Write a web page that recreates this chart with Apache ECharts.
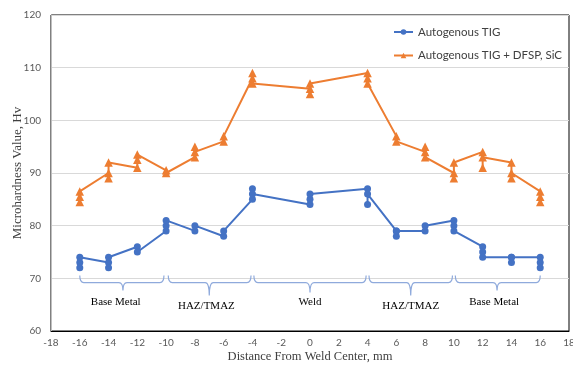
<!DOCTYPE html>
<html>
<head>
<meta charset="utf-8">
<script src="https://cdn.jsdelivr.net/npm/echarts@6/dist/echarts.min.js"></script>
<style>
html,body{margin:0;padding:0;background:#fff;}
#chart{width:573px;height:367px;}
</style>
</head>
<body>
<div id="chart"></div>
<script>
// Measurement positions (mm from weld center)
const positions = [-16, -14, -12, -10, -8, -6, -4, 0, 4, 6, 8, 10, 12, 14, 16];
// Microhardness readings at each position, in plotting order
const tigValues = [[72,73,74],[73,72,74],[76,75],[79,80,81],[79,80],[78,79],[85,87,86],[84,85,86],[87,84,86],[79,78,79],[79,80],[81,80,79],[76,75,74],[74,73,74],[74,73,72]];
const sicValues = [[84.5,85.5,86.5],[90,89,92],[91,92.5,93.5],[90.5,90],[93,95,94],[96,97],[108,109,107],[106,105,107],[109,108,107],[97,96],[94,95,93],[90,89,92],[94,91,93],[92,89,90],[86.5,85.5,84.5]];
const seriesNames = ['Autogenous TIG', 'Autogenous TIG + DFSP, SiC'];
// Zone annotations
const zoneNames = ['Base Metal', 'HAZ/TMAZ', 'Weld', 'HAZ/TMAZ', 'Base Metal'];
const zoneStart = [-16, -9.85, -3.9, 4.1, 10.1];
const zoneEnd = [-10.15, -4.1, 3.9, 9.9, 16];
const zoneMid = [-13, -7, 0, 7, 13];
const zoneLabelX = [-13.5, -7.2, 0, 7, 12.8];

// styles for brackets (pixels)
const tickLen = [8, 13, 10, 13, 8];
const labelOffset = [20, 24, 20, 24, 20];
const BRACKET_LEVEL = 69.2;

function flatten(vals) {
  const out = [];
  positions.forEach((x, i) => vals[i].forEach(v => out.push([x, v])));
  return out;
}

const chart = echarts.init(document.getElementById('chart'), null, {renderer: 'canvas'});
const axisFont = 'Lato';
const option = {
  animation: false,
  grid: {left: 51, right: 4, top: 15, bottom: 36, show: true, borderColor: '#000', borderWidth: 1,
         backgroundColor: 'transparent', containLabel: false, outerBoundsMode: 'none'},
  legend: {
    orient: 'vertical', left: 388, top: 20, itemGap: 9.5, itemWidth: 19, itemHeight: 7,
    textStyle: {fontFamily: axisFont, fontSize: 11.5, color: '#404040', lineHeight: 14},
    data: seriesNames
  },
  xAxis: {
    type: 'value', min: -18, max: 18, interval: 2,
    axisLine: {show: true, onZero: false, lineStyle: {color: '#000', width: 1}},
    axisTick: {show: false},
    splitLine: {show: false},
    axisLabel: {color: '#595959', fontFamily: axisFont, fontSize: 10, margin: 7},
    name: 'Distance From Weld Center, mm', nameLocation: 'middle', nameGap: 19, nameMoveOverlap: false,
    nameTextStyle: {fontFamily: 'Liberation Serif', fontSize: 12.5, color: '#404040'}
  },
  yAxis: {
    type: 'value', min: 60, max: 120, interval: 10,
    axisLine: {show: true, onZero: false, lineStyle: {color: '#bfbfbf', width: 1}},
    axisTick: {show: false},
    splitLine: {show: true, lineStyle: {color: '#d9d9d9', width: 1}},
    axisLabel: {color: '#595959', fontFamily: axisFont, fontSize: 10, margin: 10},
    name: 'Microhardness Value, Hv', nameLocation: 'middle', nameGap: 27, nameMoveOverlap: false,
    nameTextStyle: {fontFamily: 'Liberation Serif', fontSize: 13, color: '#404040'}
  },
  series: [
    {
      name: seriesNames[0], type: 'line', data: flatten(tigValues),
      symbol: 'circle', symbolSize: 7,
      lineStyle: {color: '#4472C4', width: 2},
      itemStyle: {color: '#4472C4'}, z: 3
    },
    {
      name: seriesNames[1], type: 'line', data: flatten(sicValues),
      symbol: 'triangle', symbolSize: 8.5,
      lineStyle: {color: '#ED7D31', width: 2},
      itemStyle: {color: '#ED7D31'}, z: 3
    },
    {
      type: 'custom', silent: true, clip: false,
      data: zoneStart.map((s, i) => [s, zoneEnd[i], zoneMid[i], zoneLabelX[i]]),
      encode: {x: [0, 1], y: []},
      renderItem: function (params, api) {
        const i = params.dataIndex;
        const a = api.coord([api.value(0), BRACKET_LEVEL]);
        const b = api.coord([api.value(1), BRACKET_LEVEL]);
        const m = api.coord([api.value(2), BRACKET_LEVEL]);
        const l = api.coord([api.value(3), BRACKET_LEVEL]);
        const y = a[1], rise = 7, r = 4, t = tickLen[i];
        const x1 = a[0], x2 = b[0], xm = m[0];
        const d = `M${x1} ${y - rise} Q${x1} ${y} ${x1 + r} ${y} L${xm - r} ${y} Q${xm} ${y} ${xm} ${y + t} Q${xm} ${y} ${xm + r} ${y} L${x2 - r} ${y} Q${x2} ${y} ${x2} ${y - rise}`;
        return {
          type: 'group',
          children: [
            {type: 'path', shape: {pathData: d}, style: {fill: null, stroke: '#8faadc', lineWidth: 1.2}},
            {type: 'text', style: {text: zoneNames[i], x: l[0], y: y + labelOffset[i], align: 'center', verticalAlign: 'middle', font: '11px "Liberation Serif"', fill: '#000'}}
          ]
        };
      }
    }
  ]
};
chart.setOption(option);
</script>
</body>
</html>
